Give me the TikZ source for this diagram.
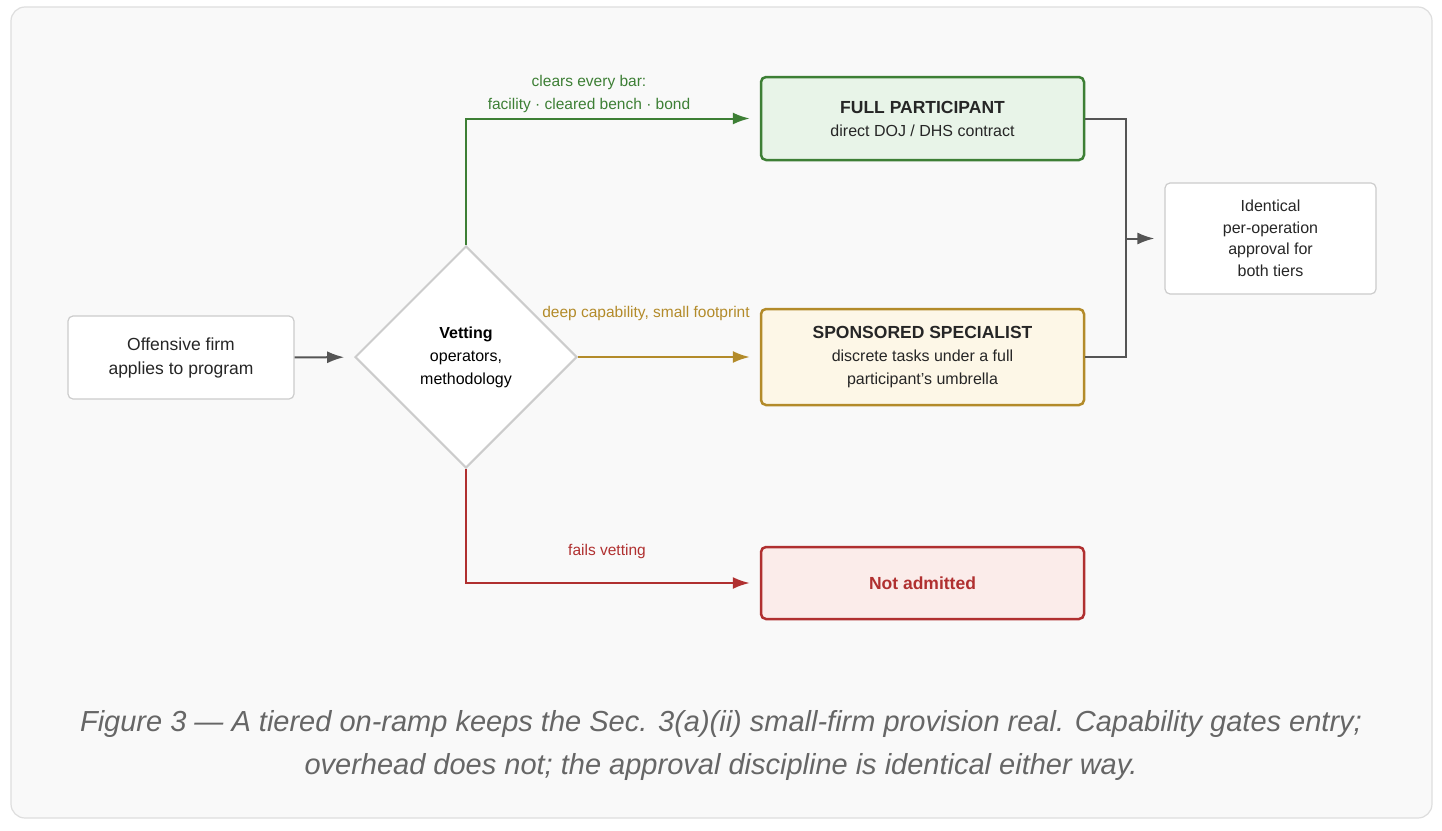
\documentclass[tikz,border=0pt]{standalone}
\usepackage{fontspec}
\setmainfont{Liberation Sans}
\usetikzlibrary{shapes.geometric,arrows.meta}
\definecolor{gline}{HTML}{3D7F35}
\definecolor{gfill}{HTML}{E8F4E8}
\definecolor{yline}{HTML}{B38B2A}
\definecolor{yfill}{HTML}{FDF7E7}
\definecolor{rline}{HTML}{B03030}
\definecolor{rfill}{HTML}{FBECEA}
\definecolor{bord}{HTML}{CCCCCC}
\definecolor{conn}{HTML}{555555}
\begin{document}
\begin{tikzpicture}[x=1pt,y=-1pt,
  box/.style={draw=bord,fill=white,rounded corners=5pt,line width=1.2pt,align=center,font=\fontsize{17.5}{24}\selectfont,text=black!85},
  tier/.style={rounded corners=5pt,line width=2.5pt,align=center,minimum width=323pt,font=\fontsize{16}{23}\selectfont,text=black!85},
  arr/.style={line width=2pt,-{Latex[length=17pt,width=12pt]},shorten >=10pt},
  lab/.style={font=\fontsize{15.5}{23}\selectfont,align=center}]
\useasboundingbox (0,0) rectangle (1442,830);
\fill[white] (0,0) rectangle (1442,830);
\draw[draw=black!13,fill=black!2.5,rounded corners=14pt,line width=1.2pt] (11,7) rectangle (1432,818);
\node[box,minimum width=226pt,minimum height=83pt] (firm) at (181,357.5) {Offensive firm\\applies to program};
\node[diamond,draw=bord,fill=white,line width=2pt,minimum width=222pt,minimum height=222pt,inner sep=0pt,align=center,font=\fontsize{16}{23}\selectfont] (vet) at (466,357) {\textbf{Vetting}\\operators,\\methodology};
\node[tier,draw=gline,fill=gfill,minimum height=83pt] (full) at (922.5,118.5) {\textbf{\fontsize{17.5}{25}\selectfont FULL PARTICIPANT}\\direct DOJ / DHS contract};
\node[tier,draw=yline,fill=yfill,minimum height=96pt] (spons) at (922.5,357) {\textbf{\fontsize{17.5}{23}\selectfont SPONSORED SPECIALIST}\\discrete tasks under a full\\participant’s umbrella};
\node[tier,draw=rline,fill=rfill,minimum height=72pt,text=rline,font=\bfseries\fontsize{17.5}{22}\selectfont] (nadm) at (922.5,583) {Not admitted};
\node[box,minimum width=211pt,minimum height=111pt,font=\fontsize{16}{21.5}\selectfont] (ident) at (1270.5,238.5) {Identical\\per-operation\\approval for\\both tiers};
\coordinate (join) at (1126,238.5);
\draw[arr,conn] (firm) -- (vet);
\draw[arr,gline] (vet.north) |- (full.west);
\draw[arr,yline] (vet.east) -- (spons.west);
\draw[arr,rline] (vet.south) |- (nadm.west);
\draw[conn,line width=2pt] (full.east) -| (join);
\draw[conn,line width=2pt] (spons.east) -| (join);
\draw[arr,conn] (join) -- (ident.west);
\node[lab,text=gline] (l1) at (589,94) {clears every bar:\\facility · cleared bench · bond};
\node[lab,text=yline] (l2) at (646,313) {deep capability, small footprint};
\node[lab,text=rline] (l3) at (607,551) {fails vetting};
\node[font=\itshape\fontsize{29}{43}\selectfont,text=black!60,align=center] (cap) at (721,745) {Figure 3 — A tiered on-ramp keeps the Sec. 3(a)(ii) small-firm provision real. Capability gates entry;\\overhead does not; the approval discipline is identical either way.};
\end{tikzpicture}
\end{document}
